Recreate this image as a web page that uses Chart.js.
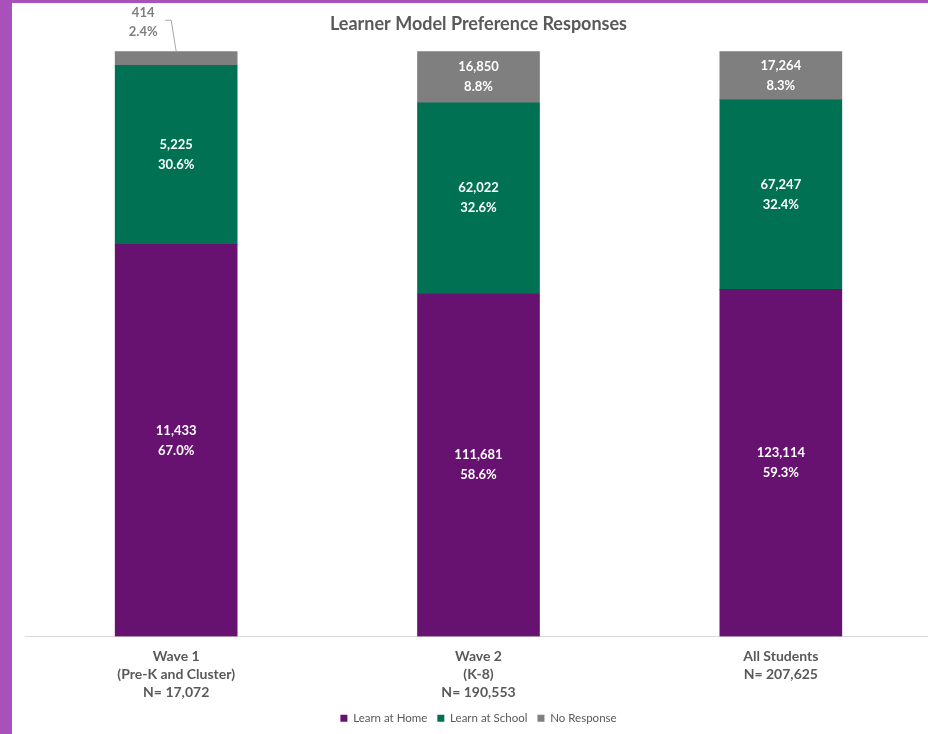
<!DOCTYPE html>
<html>
<head>
<meta charset="utf-8">
<script src="https://cdn.jsdelivr.net/npm/chart.js@4/dist/chart.umd.min.js"></script>
<style>
  html, body { margin: 0; padding: 0; overflow: hidden; width: 928px; height: 734px; background: #a951bb; }
  #wrap { position: absolute; left: 12px; top: 3px; width: 920px; height: 731px; background: #ffffff; }
  canvas { display: block; }
</style>
</head>
<body>
<div id="wrap"><canvas id="c" width="920" height="731"></canvas></div>
<script>
const categories = [["Wave 1", "(Pre-K and Cluster)", "N= 17,072"], ["Wave 2", "(K-8)", "N= 190,553"], ["All Students", "N= 207,625"]];
const seriesNames = ["Learn at Home", "Learn at School", "No Response"];
const homeCounts = [11433, 111681, 123114];
const schoolCounts = [5225, 62022, 67247];
const noRespCounts = [414, 16850, 17264];
const homePct = [67.0, 58.6, 59.3];
const schoolPct = [30.6, 32.6, 32.4];
const noRespPct = [2.4, 8.8, 8.3];
const titleText = "Learner Model Preference Responses";

const FONT = "Lato, 'Open Sans', sans-serif";
const counts = [homeCounts, schoolCounts, noRespCounts];

const labelPlugin = {
  id: 'barLabels',
  afterDatasetsDraw(chart) {
    const ctx = chart.ctx;
    ctx.save();
    ctx.font = "bold 13px " + FONT;
    ctx.textAlign = 'center';
    ctx.textBaseline = 'middle';
    chart.data.datasets.forEach((ds, di) => {
      const meta = chart.getDatasetMeta(di);
      meta.data.forEach((bar, i) => {
        const l1 = counts[di][i].toLocaleString('en-US');
        const l2 = ds.data[i].toFixed(1) + '%';
        const top = Math.min(bar.y, bar.base);
        const h = Math.abs(bar.base - bar.y);
        if (h < 30) {
          ctx.fillStyle = '#7f7f7f';
          ctx.fillText(l1, bar.x - 33, top - 38);
          ctx.fillText(l2, bar.x - 33, top - 19);
          ctx.strokeStyle = '#a6a6a6';
          ctx.lineWidth = 1;
          ctx.beginPath();
          ctx.moveTo(bar.x - 11, top - 31);
          ctx.lineTo(bar.x - 5, top - 31);
          ctx.lineTo(bar.x, top);
          ctx.stroke();
        } else {
          const cy = top + h / 2;
          ctx.fillStyle = '#ffffff';
          ctx.fillText(l1, bar.x, cy - 10);
          ctx.fillText(l2, bar.x, cy + 10);
        }
      });
    });
    ctx.restore();
  }
};

new Chart(document.getElementById('c'), {
  type: 'bar',
  data: {
    labels: categories,
    datasets: [
      { label: seriesNames[0], data: homePct, backgroundColor: '#671270' },
      { label: seriesNames[1], data: schoolPct, backgroundColor: '#007153' },
      { label: seriesNames[2], data: noRespPct, backgroundColor: '#7f7f7f' }
    ]
  },
  options: {
    responsive: false,
    animation: false,
    layout: { padding: { left: 13, right: 0, top: 0, bottom: 0 } },
    datasets: { bar: { barThickness: 122, borderWidth: 0 } },
    scales: {
      x: {
        stacked: true,
        grid: { display: false, drawTicks: false },
        border: { display: true, color: '#d9d9d9', width: 1 },
        ticks: { color: '#595959', padding: 11, font: { family: FONT, size: 14, weight: 'bold', lineHeight: '18px' }, maxRotation: 0, autoSkip: false },
        afterFit(scale) { scale.height = 66; }
      },
      y: {
        stacked: true,
        display: false,
        min: 0,
        max: 100
      }
    },
    plugins: {
      title: {
        display: true,
        text: titleText,
        color: '#595959',
        font: { family: FONT, size: 18, weight: 'bold', lineHeight: 1.2 },
        padding: { top: 10, bottom: 16.6 }
      },
      legend: {
        position: 'bottom',
        labels: {
          boxWidth: 7,
          boxHeight: 7,
          padding: 10,
          color: '#595959',
          font: { family: FONT, size: 11.5 }
        }
      },
      tooltip: { enabled: false }
    }
  },
  plugins: [labelPlugin]
});
</script>
</body>
</html>
